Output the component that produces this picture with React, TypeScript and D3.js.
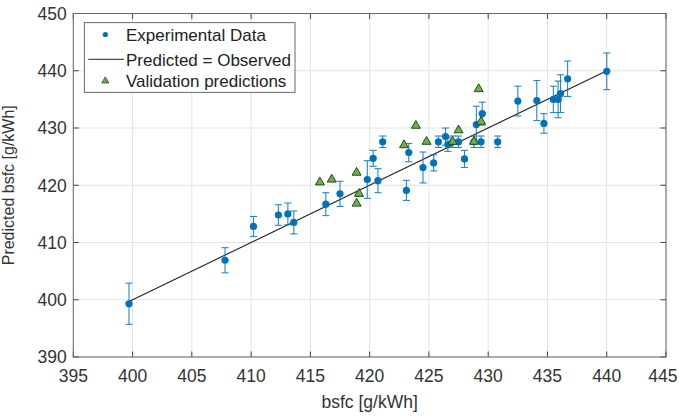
import React from "react";
import * as d3 from "d3";

const expX = [399.7, 407.8, 410.2, 412.3, 413.1, 413.6, 416.3, 417.5, 419.8, 420.3, 420.7, 421.1, 423.1, 423.3, 424.5, 425.4, 425.8, 426.4, 426.6, 427.0, 427.5, 428.0, 428.8, 429.0, 429.4, 429.5, 430.8, 432.5, 434.1, 434.7, 435.5, 435.9, 436.1, 436.7, 440.0];
const expY = [399.3, 406.9, 412.8, 414.8, 415.0, 413.5, 416.7, 418.5, 421.0, 424.7, 420.8, 427.6, 419.1, 425.7, 423.1, 423.9, 427.6, 428.5, 427.1, 427.6, 427.6, 424.6, 427.6, 430.6, 427.6, 432.5, 427.6, 434.7, 434.8, 430.8, 435.0, 435.0, 436.0, 438.6, 439.9];
const expErr = [3.6, 2.2, 1.75, 1.8, 1.9, 2.0, 2.0, 2.2, 3.3, 1.4, 2.1, 1.0, 1.75, 1.6, 2.7, 1.4, 1.0, 1.5, 1.2, 1.0, 1.0, 1.5, 1.0, 3.2, 1.0, 2.0, 1.0, 2.6, 3.5, 1.7, 2.3, 3.2, 3.3, 3.1, 3.2];

const valX = [415.8, 416.8, 418.9, 419.1, 418.9, 422.9, 423.9, 424.8, 427.0, 427.5, 428.8, 429.4, 429.2];
const valY = [420.6, 421.1, 422.3, 418.6, 416.9, 427.1, 430.5, 427.7, 427.7, 429.7, 427.7, 431.2, 436.9];

const lineX = [399.4, 440.1];

const xTicks = [395, 400, 405, 410, 415, 420, 425, 430, 435, 440, 445];
const yTicks = [390, 400, 410, 420, 430, 440, 450];

const legendLabels = ["Experimental Data", "Predicted = Observed", "Validation predictions"];

const W = 679, H = 417;
const L = 73.3, R = 666, T = 13.5, B = 357;
const FONT = "'Liberation Sans', Arial, Helvetica, sans-serif";

export default function App() {
  const x = d3.scaleLinear().domain([395, 445]).range([L, R]);
  const y = d3.scaleLinear().domain([390, 450]).range([B, T]);
  const tick = 5.5;
  const blue = "#0072BD";
  const tri = (cx: number, cy: number, s: number) => {
    const h = s * 0.866;
    return `M${cx},${cy - h * 0.6}L${cx + s / 2},${cy + h * 0.4}L${cx - s / 2},${cy + h * 0.4}Z`;
  };
  const line = d3.line<number>().x((v) => x(v)).y((v) => y(v));
  const legY = [34.5, 59.3, 80.5];
  const tickFont = 17.5;
  const labelHalf = tickFont * 0.556 * 1.5;

  return (
    <svg width={W} height={H} style={{ position: "absolute", left: 0, top: 0, background: "#fff" }} fontFamily={FONT}>
      <rect x={0} y={0} width={W} height={H} fill="#fff" />
      {xTicks.map((t) => (
        <line key={"gx" + t} x1={x(t)} x2={x(t)} y1={T} y2={B} stroke="#e3e3e3" strokeWidth={1} />
      ))}
      {yTicks.map((t) => (
        <line key={"gy" + t} x1={L} x2={R} y1={y(t)} y2={y(t)} stroke="#e3e3e3" strokeWidth={1} />
      ))}
      {xTicks.map((t) => (
        <g key={"tx" + t}>
          <line x1={x(t)} x2={x(t)} y1={B} y2={B - tick} stroke="#444" />
          <line x1={x(t)} x2={x(t)} y1={T} y2={T + tick} stroke="#444" />
          <text x={Math.min(x(t), W - 1.5 - labelHalf)} y={B + 25} textAnchor="middle" fontSize={tickFont} fill="#333">{t}</text>
        </g>
      ))}
      {yTicks.map((t) => (
        <g key={"ty" + t}>
          <line x1={L} x2={L + tick} y1={y(t)} y2={y(t)} stroke="#444" />
          <line x1={R} x2={R - tick} y1={y(t)} y2={y(t)} stroke="#444" />
          <text x={L - 6.5} y={y(t) + 6.3} textAnchor="end" fontSize={tickFont} fill="#333">{t}</text>
        </g>
      ))}
      <rect x={L} y={T} width={R - L} height={B - T} fill="none" stroke="#666" strokeWidth={1} />
      <path d={line(lineX) || ""} stroke="#222" strokeWidth={1.1} fill="none" />
      {expX.map((v, i) => (
        <g key={"e" + i} stroke={blue} strokeWidth={1.1} opacity={0.85}>
          <line x1={x(v)} x2={x(v)} y1={y(expY[i] - expErr[i])} y2={y(expY[i] + expErr[i])} />
          <line x1={x(v) - 3.5} x2={x(v) + 3.5} y1={y(expY[i] - expErr[i])} y2={y(expY[i] - expErr[i])} />
          <line x1={x(v) - 3.5} x2={x(v) + 3.5} y1={y(expY[i] + expErr[i])} y2={y(expY[i] + expErr[i])} />
        </g>
      ))}
      {expX.map((v, i) => (
        <circle key={"c" + i} cx={x(v)} cy={y(expY[i])} r={3.6} fill={blue} />
      ))}
      {valX.map((v, i) => (
        <path key={"t" + i} d={tri(x(v), y(valY[i]), 9)} fill="#6fae4a" stroke="#1f4d14" strokeWidth={1} />
      ))}
      <rect x={84.3} y={22.7} width={210.7} height={69.6} fill="#fff" stroke="#444" strokeWidth={0.8} />
      <circle cx={105.3} cy={legY[0]} r={2.6} fill={blue} />
      <line x1={88.3} x2={124} y1={legY[1]} y2={legY[1]} stroke="#222" strokeWidth={1} />
      <path d={tri(105.3, legY[2], 7)} fill="#6fae4a" stroke="#1f4d14" strokeWidth={0.8} />
      {legendLabels.map((s, i) => (
        <text key={s} x={126} y={legY[i] + 6.2} fontSize={17} fill="#222">{s}</text>
      ))}
      <text x={(L + R) / 2} y={408} textAnchor="middle" fontSize={17.5} fill="#333">bsfc [g/kWh]</text>
      <text transform={`translate(14,${(T + B) / 2}) rotate(-90)`} textAnchor="middle" fontSize={16} fill="#333">Predicted bsfc [g/kWh]</text>
    </svg>
  );
}
